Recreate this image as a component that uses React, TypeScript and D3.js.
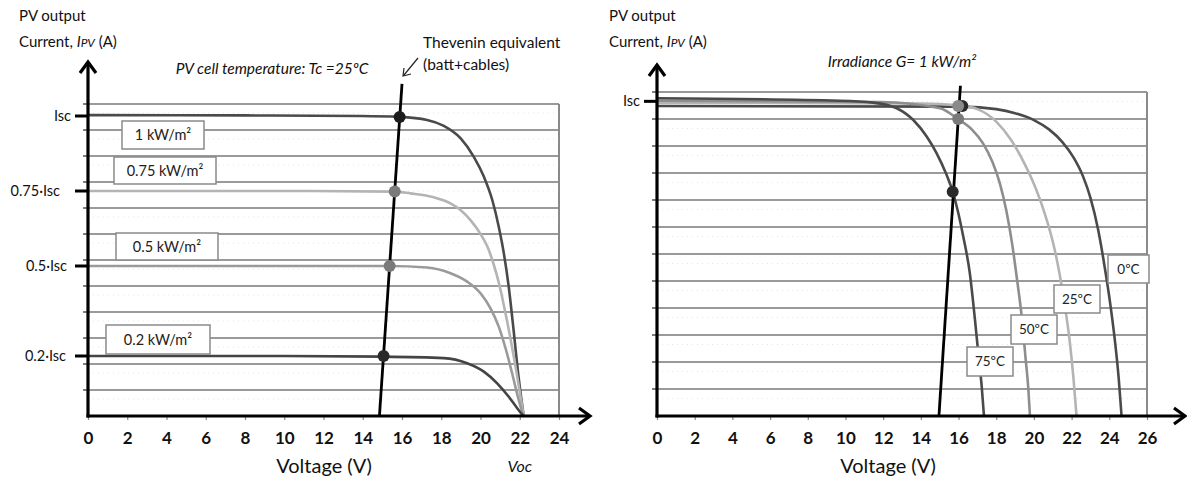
import React, { useEffect, useRef } from 'react';
import * as d3 from 'd3';

type Pt = [number, number];

// ---- left panel: irradiance family, Tc = 25ºC (current in units of Isc) ----
const leftVoltTicks = [0, 2, 4, 6, 8, 10, 12, 14, 16, 18, 20, 22, 24];
const leftCurrentTicks = [1, 0.75, 0.5, 0.2];
const leftCurrentLabels = ['Isc', '0.75·Isc', '0.5·Isc', '0.2·Isc'];
const irradianceLabels = ['1 kW/m²', '0.75 kW/m²', '0.5 kW/m²', '0.2 kW/m²'];

const curve1kW: Pt[] = [
  [0, 1.003], [8, 1.002], [13.9, 1.0], [15.87, 0.997], [17.28, 0.987], [18.13, 0.967],
  [18.98, 0.926], [19.66, 0.864], [20.17, 0.798], [20.6, 0.72], [20.93, 0.631],
  [21.19, 0.542], [21.44, 0.43], [21.68, 0.29], [21.94, 0.13], [22.2, 0],
];
const curve075kW: Pt[] = [
  [0, 0.75], [10, 0.75], [15.63, 0.748], [16.43, 0.742], [17.62, 0.729], [18.47, 0.709],
  [18.98, 0.687], [19.49, 0.653], [20.0, 0.607], [20.35, 0.565], [20.65, 0.51],
  [20.95, 0.44], [21.25, 0.35], [21.55, 0.25], [21.85, 0.14], [22.05, 0.06], [22.2, 0],
];
const curve05kW: Pt[] = [
  [0, 0.5], [10, 0.5], [15.32, 0.5], [17.28, 0.495], [18.47, 0.476], [19.32, 0.448],
  [20.0, 0.409], [20.51, 0.359], [20.93, 0.298], [21.28, 0.225], [21.62, 0.14],
  [21.9, 0.065], [22.18, 0],
];
const curve02kW: Pt[] = [
  [0, 0.2], [10, 0.2], [15.04, 0.198], [18.13, 0.193], [19.32, 0.176], [20.17, 0.148],
  [20.85, 0.109], [21.44, 0.064], [21.87, 0.026], [22.18, 0],
];
const leftThevenin: Pt[] = [[14.85, 0], [16.0, 1.107]];
const leftDots: Pt[] = [[15.88, 0.997], [15.63, 0.748], [15.37, 0.5], [15.06, 0.2]];

// ---- right panel: temperature family, G = 1 kW/m² ----
const rightVoltTicks = [0, 2, 4, 6, 8, 10, 12, 14, 16, 18, 20, 22, 24, 26];
const rightCurrentTicks = [1.01];
const rightCurrentLabels = ['Isc'];
const temperatureLabels = ['0ºC', '25ºC', '50ºC', '75ºC'];

const curve0C: Pt[] = [
  [0, 0.995], [16.2, 0.993], [18, 0.985], [19, 0.972], [20, 0.95], [20.8, 0.92],
  [21.5, 0.88], [22.1, 0.83], [22.6, 0.77], [23.0, 0.7], [23.4, 0.6], [23.75, 0.48],
  [24.05, 0.36], [24.3, 0.24], [24.5, 0.12], [24.65, 0],
];
const curve25C: Pt[] = [
  [0, 1.005], [14, 1.003], [16, 0.997], [17, 0.985], [18, 0.945], [18.8, 0.885],
  [19.5, 0.81], [20.1, 0.73], [20.6, 0.645], [21.0, 0.56], [21.35, 0.46], [21.65, 0.35],
  [21.9, 0.24], [22.1, 0.12], [22.26, 0],
];
const curve50C: Pt[] = [
  [0, 1.012], [11.83, 1.008], [15.01, 0.988], [16, 0.952], [16.7, 0.92], [17.3, 0.875],
  [17.8, 0.815], [18.2, 0.745], [18.55, 0.655], [18.85, 0.55], [19.1, 0.44], [19.35, 0.32],
  [19.55, 0.19], [19.7, 0.09], [19.79, 0],
];
const curve75C: Pt[] = [
  [0, 1.02], [9.71, 1.012], [11.46, 1.006], [12.72, 0.988], [13.6, 0.95], [14.31, 0.897],
  [14.84, 0.843], [15.33, 0.779], [15.69, 0.72], [15.99, 0.651], [16.25, 0.576],
  [16.6, 0.458], [16.87, 0.31], [17.05, 0.2], [17.23, 0.094], [17.35, 0],
];
const rightThevenin: Pt[] = [[14.96, 0], [16.1, 1.06]];
const rightDots: Pt[] = [[16.2, 0.995], [15.98, 0.995], [15.98, 0.953], [15.69, 0.72]];

const FONT = 'Lato, "Open Sans", sans-serif';

type Panel = {
  x0: number; x1: number; vmax: number; yBottom: number; yTop: number;
  xArrow: number; yArrow: number;
  ticks: number[];
  curTicks: number[]; curLabels: string[]; curLabelDx: number[];
  curves: Pt[][]; curveColors: string[];
  thevenin: Pt[];
  dots: Pt[]; dotColors: string[];
  boxes: number[][]; boxLabels: string[]; boxFont: number;
  titleX: number; title: string; titleY: number;
  labelX: number;
  voltX: number;
};

function drawPanel(svg: d3.Selection<SVGSVGElement, unknown, null, undefined>, p: Panel) {
  const x = d3.scaleLinear().domain([0, p.vmax]).range([p.x0, p.x1]);
  const y = d3.scaleLinear().domain([0, 1.04]).range([p.yBottom, p.yTop]);
  const g = svg.append('g');

  // grid: 12 bands, faint dotted lines in between
  const major = d3.range(1, 13).map(i => (1.04 * i) / 12);
  const minor = d3.range(0, 12).map(i => (1.04 * (i + 0.5)) / 12);
  g.selectAll('.minor').data(minor).enter().append('line')
    .attr('x1', x(0)).attr('x2', x(p.vmax))
    .attr('y1', d => y(d) - 4).attr('y2', d => y(d) - 4)
    .attr('stroke', '#e6e6e6').attr('stroke-width', 1).attr('stroke-dasharray', '1 4');
  g.selectAll('.major').data(major).enter().append('line')
    .attr('x1', x(0)).attr('x2', x(p.vmax))
    .attr('y1', d => y(d)).attr('y2', d => y(d))
    .attr('stroke', '#9a9a9a').attr('stroke-width', 2);
  g.append('line')
    .attr('x1', x(p.vmax)).attr('x2', x(p.vmax))
    .attr('y1', y(0)).attr('y2', y(1.04))
    .attr('stroke', '#8a8a8a').attr('stroke-width', 2);

  // small ticks on the y axis at each grid line
  g.selectAll('.ytk').data(major).enter().append('line')
    .attr('x1', x(0) - 5).attr('x2', x(0))
    .attr('y1', d => y(d)).attr('y2', d => y(d))
    .attr('stroke', '#555').attr('stroke-width', 1.5);

  const line = d3.line<Pt>().x(d => x(d[0])).y(d => y(d[1])).curve(d3.curveMonotoneX);
  p.curves.forEach((c, i) => {
    g.append('path').datum(c)
      .attr('fill', 'none').attr('stroke', p.curveColors[i])
      .attr('stroke-width', 2.6).attr('d', line);
  });

  g.append('path').datum(p.thevenin)
    .attr('fill', 'none').attr('stroke', '#000').attr('stroke-width', 2.8)
    .attr('d', d3.line<Pt>().x(d => x(d[0])).y(d => y(d[1])));

  g.selectAll('.dot').data(p.dots).enter().append('circle')
    .attr('cx', d => x(d[0])).attr('cy', d => y(d[1])).attr('r', 6)
    .attr('fill', (d, i) => p.dotColors[i]);

  // label boxes
  p.boxes.forEach((b, i) => {
    g.append('rect').attr('x', b[0]).attr('y', b[1]).attr('width', b[2]).attr('height', b[3])
      .attr('fill', '#fff').attr('stroke', '#8a8a8a').attr('stroke-width', 1.5);
    g.append('text').attr('x', b[0] + b[2] / 2).attr('y', b[1] + b[3] / 2 + p.boxFont * 0.36)
      .attr('text-anchor', 'middle').attr('font-family', FONT).attr('font-size', p.boxFont)
      .attr('fill', '#222').text(p.boxLabels[i]);
  });

  // x axis
  const xAxis = d3.axisBottom(x).tickValues(p.ticks).tickSize(4).tickPadding(12)
    .tickFormat(d => String(d));
  const ax = g.append('g').attr('transform', `translate(0,${y(0)})`).call(xAxis);
  ax.select('.domain').remove();
  ax.selectAll('.tick line').attr('stroke', '#888').attr('stroke-width', 1.2);
  ax.selectAll('.tick text').attr('font-family', FONT).attr('font-size', 17)
    .attr('font-weight', 700).attr('fill', '#111');

  g.append('line').attr('x1', x(0) - 1.5).attr('x2', p.xArrow).attr('y1', y(0)).attr('y2', y(0))
    .attr('stroke', '#000').attr('stroke-width', 3.2);
  g.append('path')
    .attr('d', `M${p.xArrow - 11},${y(0) - 8} L${p.xArrow},${y(0)} L${p.xArrow - 11},${y(0) + 8}`)
    .attr('fill', 'none').attr('stroke', '#000').attr('stroke-width', 3.2);

  // y axis
  g.append('line').attr('x1', x(0)).attr('x2', x(0)).attr('y1', y(0) + 1.5).attr('y2', p.yArrow)
    .attr('stroke', '#000').attr('stroke-width', 3.2);
  g.append('path')
    .attr('d', `M${x(0) - 8},${p.yArrow + 11} L${x(0)},${p.yArrow} L${x(0) + 8},${p.yArrow + 11}`)
    .attr('fill', 'none').attr('stroke', '#000').attr('stroke-width', 3.2);

  p.curTicks.forEach((v, i) => {
    g.append('line').attr('x1', x(0) - 13).attr('x2', x(0)).attr('y1', y(v)).attr('y2', y(v))
      .attr('stroke', '#000').attr('stroke-width', 3);
    g.append('text').attr('x', x(0) - p.curLabelDx[i]).attr('y', y(v) + 5)
      .attr('text-anchor', 'end').attr('font-family', FONT).attr('font-size', 14.5)
      .attr('fill', '#111').text(p.curLabels[i]);
  });

  // axis titles
  g.append('text').attr('x', p.labelX).attr('y', 21).attr('font-family', FONT)
    .attr('font-size', 15).attr('fill', '#111').text('PV output');
  const cur = g.append('text').attr('x', p.labelX).attr('y', 47).attr('font-family', FONT)
    .attr('font-size', 15).attr('fill', '#111');
  cur.append('tspan').text('Current, ');
  cur.append('tspan').attr('font-style', 'italic').text('I');
  cur.append('tspan').attr('font-style', 'italic').attr('font-size', 12).text('PV');
  cur.append('tspan').text(' (A)');

  g.append('text').attr('x', p.voltX).attr('y', 473).attr('text-anchor', 'middle')
    .attr('font-family', FONT).attr('font-size', 20).attr('fill', '#111').text('Voltage (V)');

  g.append('text').attr('x', p.titleX).attr('y', p.titleY).attr('text-anchor', 'middle')
    .attr('font-family', FONT).attr('font-style', 'italic').attr('font-size', 15.5)
    .attr('fill', '#111').text(p.title);

  return { x, y, g };
}

export default function App() {
  const ref = useRef<SVGSVGElement>(null);

  useEffect(() => {
    const svg = d3.select(ref.current as SVGSVGElement);
    svg.selectAll('*').remove();

    const left = drawPanel(svg, {
      x0: 88, x1: 559, vmax: 24, yBottom: 416, yTop: 104, xArrow: 590, yArrow: 62,
      ticks: leftVoltTicks,
      curTicks: leftCurrentTicks, curLabels: leftCurrentLabels, curLabelDx: [17, 28, 21, 22],
      curves: [curve1kW, curve075kW, curve05kW, curve02kW],
      curveColors: ['#4a4a4a', '#b4b4b4', '#9a9a9a', '#444'],
      thevenin: leftThevenin,
      dots: leftDots, dotColors: ['#1c1c1c', '#7a7a7a', '#7a7a7a', '#2a2a2a'],
      boxes: [[122, 121, 82, 28], [114, 157, 102, 27], [116, 233, 102, 27], [106, 325, 104, 29]],
      boxLabels: irradianceLabels, boxFont: 14.5,
      titleX: 272, titleY: 74, title: 'PV cell temperature: Tc =25ºC',
      labelX: 19, voltX: 324,
    });

    drawPanel(svg, {
      x0: 657, x1: 1147, vmax: 26, yBottom: 416, yTop: 92, xArrow: 1185, yArrow: 65,
      ticks: rightVoltTicks,
      curTicks: rightCurrentTicks, curLabels: rightCurrentLabels, curLabelDx: [17],
      curves: [curve0C, curve25C, curve50C, curve75C],
      curveColors: ['#4a4a4a', '#b4b4b4', '#8e8e8e', '#4a4a4a'],
      thevenin: rightThevenin,
      dots: rightDots, dotColors: ['#2a2a2a', '#8a8a8a', '#7a7a7a', '#2a2a2a'],
      boxes: [[1108, 255, 41, 28], [1054, 285, 46, 28], [1011, 315, 46, 29], [967, 347, 46, 29]],
      boxLabels: temperatureLabels, boxFont: 13.5,
      titleX: 902, titleY: 67, title: 'Irradiance G= 1 kW/m²',
      labelX: 609, voltX: 888,
    });

    // Thevenin annotation + Voc label on the left panel
    const lg = left.g;
    lg.append('text').attr('x', 423).attr('y', 48).attr('font-family', FONT)
      .attr('font-size', 15.5).attr('fill', '#111').text('Thevenin equivalent');
    lg.append('text').attr('x', 423).attr('y', 70).attr('font-family', FONT)
      .attr('font-size', 15.5).attr('fill', '#111').text('(batt+cables)');
    lg.append('line').attr('x1', 418).attr('y1', 58).attr('x2', 404).attr('y2', 75)
      .attr('stroke', '#222').attr('stroke-width', 1.2);
    lg.append('path').attr('d', 'M404,68 L403,76 L411,74')
      .attr('fill', 'none').attr('stroke', '#222').attr('stroke-width', 1.2);
    lg.append('text').attr('x', left.x(22)).attr('y', 472).attr('text-anchor', 'middle')
      .attr('font-family', FONT).attr('font-style', 'italic').attr('font-size', 16)
      .attr('fill', '#111').text('Voc');
  }, []);

  return (
    <svg ref={ref} width={1187} height={482}
      style={{ position: 'absolute', left: 0, top: 0, background: '#fff' }} />
  );
}
